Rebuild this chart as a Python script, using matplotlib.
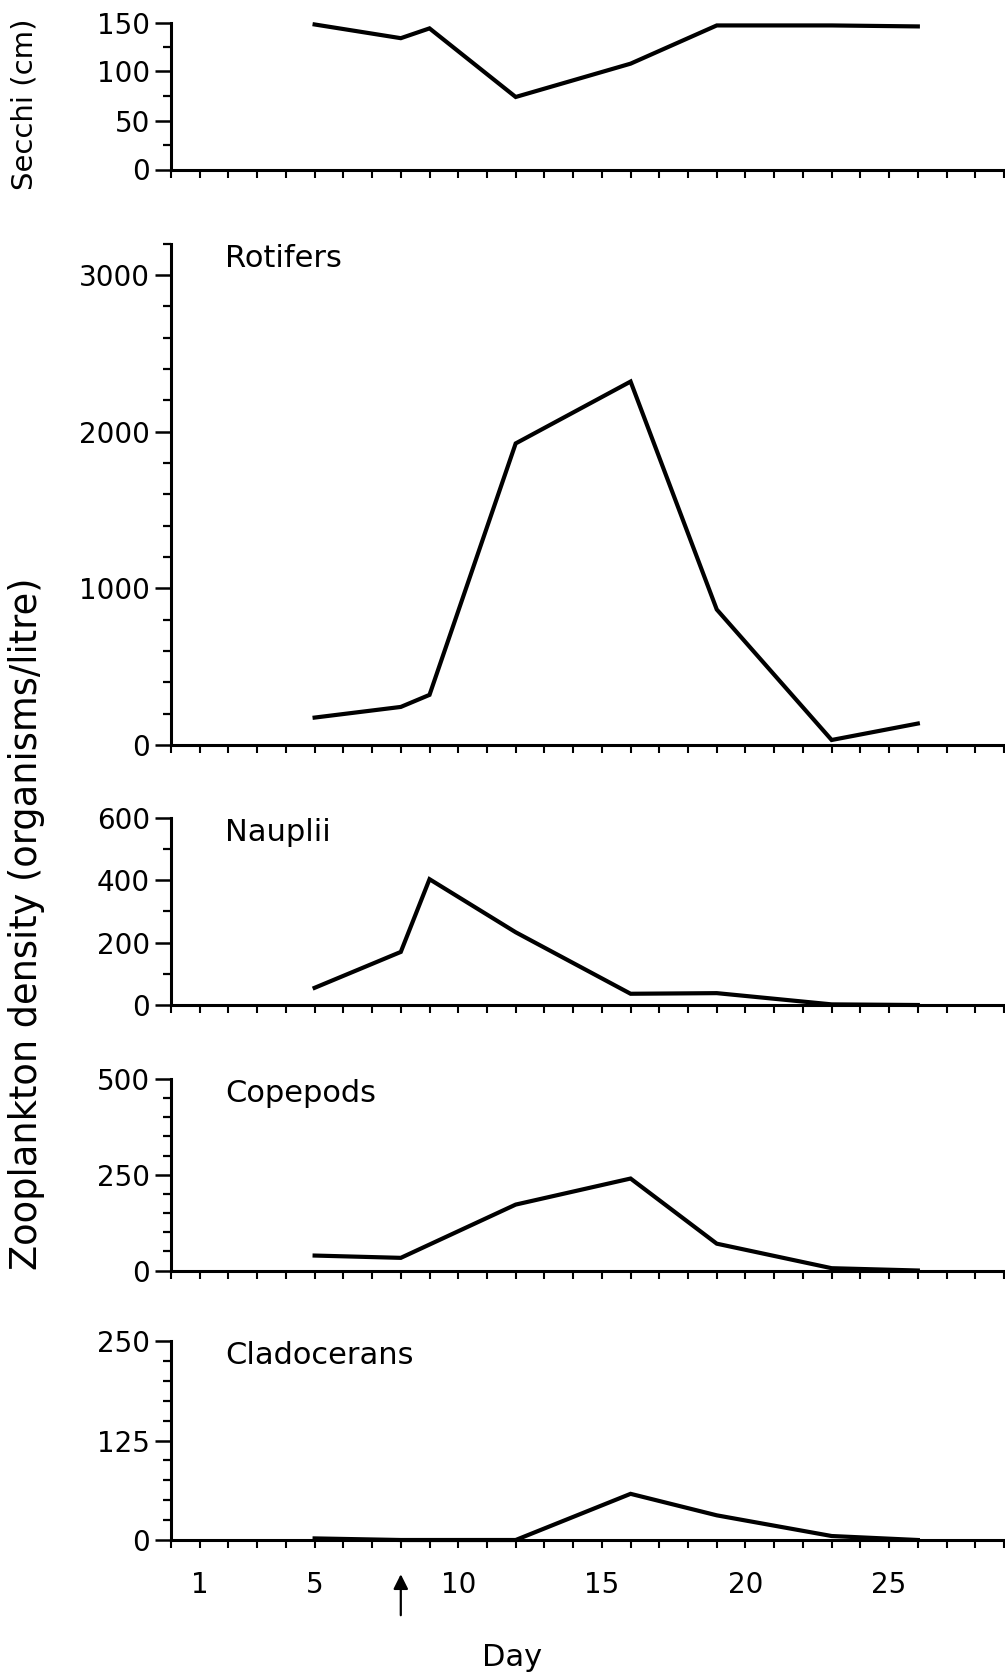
import matplotlib
matplotlib.use("Agg")
import matplotlib.pyplot as plt
from matplotlib.ticker import MultipleLocator, FixedLocator

plt.rcParams['font.family'] = ['DejaVu Sans']

# ---- data ----
days = [5, 8, 9, 12, 16, 19, 23, 26]
secchi = [148, 134, 144, 74, 108, 147, 147, 146]
rotifers = [175, 243, 320, 1925, 2320, 865, 32, 137]
nauplii = [55, 170, 403, 233, 36, 38, 2, 0]
cope_days = [5, 8, 12, 16, 19, 23, 26]
copepods = [39, 33, 172, 240, 70, 6, 0]
clad_days = [5, 8, 12, 16, 19, 23, 26]
cladocerans = [2, 0, 0, 58, 31, 5, 0]

panel_names = ["Rotifers", "Nauplii", "Copepods", "Cladocerans"]
xtick_labels = [1, 5, 10, 15, 20, 25]
arrow_day = 8

W, H = 1005, 1679
fig = plt.figure(figsize=(W / 100, H / 100), dpi=100)

left = 171 / W
right = 1004 / W
# (top px, bottom px)
boxes = [(22.5, 169.5), (243.7, 745), (817.7, 1005), (1078.9, 1270.5), (1341, 1540)]

panels = [
    (days, secchi, 150, 50, 25, None),
    (days, rotifers, 3200, 1000, 200, panel_names[0]),
    (days, nauplii, 600, 200, 100, panel_names[1]),
    (cope_days, copepods, 500, 250, 50, panel_names[2]),
    (clad_days, cladocerans, 250, 125, 25, panel_names[3]),
]

axes = []
for (top, bot), (x, y, ymax, major, minor, name) in zip(boxes, panels):
    ax = fig.add_axes([left, 1 - bot / H, right - left, (bot - top) / H])
    ax.plot(x, y, color='black', lw=3.0, clip_on=False, solid_joinstyle='miter')
    ax.set_xlim(0, 29)
    ax.set_ylim(0, ymax)
    ax.spines['top'].set_visible(False)
    ax.spines['right'].set_visible(False)
    ax.spines['left'].set_linewidth(2.2)
    ax.spines['bottom'].set_linewidth(2.2)
    ax.yaxis.set_major_locator(FixedLocator(list(range(0, int(ymax) + 1, major))))
    ax.yaxis.set_minor_locator(MultipleLocator(minor))
    ax.tick_params(axis='y', which='major', direction='out', length=11.5, width=1.8,
                   pad=3.5, labelsize=20)
    ax.tick_params(axis='y', which='minor', direction='out', length=6, width=1.6)
    ax.set_xticks(list(range(0, 30)))
    ax.tick_params(axis='x', which='major', direction='out', length=5.5, width=1.5,
                   labelsize=20, pad=16.5)
    ax.set_xticklabels([])
    if name is not None:
        ax.annotate(name, xy=(0, 1), xycoords='axes fraction', xytext=(39, -16.5),
                    textcoords='offset points', fontsize=22, ha='left', va='baseline')
    axes.append(ax)

bottom_ax = axes[-1]
bottom_ax.set_xticklabels([str(d) if d in xtick_labels else '' for d in range(0, 30)])

# arrow marking the treatment day
bottom_ax.annotate('', xy=(arrow_day, -0.172), xycoords=('data', 'axes fraction'),
                   xytext=(arrow_day, -0.378), textcoords=('data', 'axes fraction'),
                   arrowprops=dict(arrowstyle='-|>', lw=1.6, color='black',
                                   mutation_scale=22, shrinkA=0, shrinkB=0),
                   annotation_clip=False)

fig.text(512 / W, 1 - 1657 / H, "Day", fontsize=22, ha='center', va='center')
fig.text(24 / W, 1 - 104 / H, "Secchi (cm)", fontsize=21, rotation=90,
         ha='center', va='center')
fig.text(27 / W, 1 - 924 / H, "Zooplankton density (organisms/litre)", fontsize=26.5,
         rotation=90, ha='center', va='center')

fig.savefig("out.png", dpi=100)
